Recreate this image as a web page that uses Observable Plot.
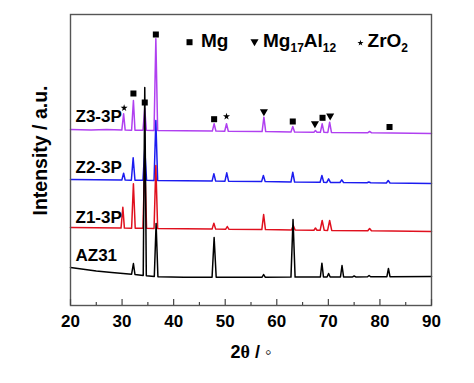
<!DOCTYPE html>
<html><head><meta charset="utf-8">
<script src="https://cdn.jsdelivr.net/npm/d3@7"></script>
<script src="https://cdn.jsdelivr.net/npm/@observablehq/plot@0.6"></script>
<style>
html,body{margin:0;padding:0;background:#fff;}
#chart svg{display:block;}
</style></head><body><div id="chart"></div>
<script>
// ---- data (2θ in degrees, intensity in arbitrary units) ----
const xTicks = [20, 30, 40, 50, 60, 70, 80, 90];
const xMinorTicks = [25, 35, 45, 55, 65, 75, 85];

const seriesNames = ["Z3-3P", "Z2-3P", "Z1-3P", "AZ31"];
const seriesColors = ["#b040f0", "#1c1cf0", "#e0101e", "#000000"];
const labelX = [20.97, 20.97, 20.97, 20.97];
const labelY = [189.2, 138.2, 88.2, 49.8];

const z3 = [[20,176],[24,175.6],[27,175.9],[29.95,175.4],[30.3,191.7],[30.6,175.4],[31.85,175.3],[32.2,205],[32.5,175.3],[34.05,175.2],[34.4,197],[34.7,175.2],[36.2,175.1],[36.55,266.7],[36.9,175.1],[42,174.8],[47.5,174.4],[47.85,181.7],[48.2,174.4],[49.9,174.3],[50.25,181.7],[50.6,174.3],[57.15,173.9],[57.5,188.3],[57.85,173.9],[62.75,173.6],[63.1,179],[63.45,173.5],[67.2,173.3],[67.5,175],[67.8,173.3],[68.45,173.2],[68.8,181.7],[69.15,173.2],[69.9,173.1],[70.25,183.3],[70.6,173.1],[77.6,172.7],[78,174],[78.4,172.7],[90,172]];
const z2 = [[20,126],[29.95,125.4],[30.3,132.3],[30.6,125.4],[31.8,125.3],[32.15,147.7],[32.5,125.3],[34.05,125.2],[34.4,157],[34.75,125.2],[36.2,125.1],[36.55,185],[36.9,125.1],[47.45,124.4],[47.8,131.7],[48.15,124.4],[49.95,124.3],[50.3,132.7],[50.65,124.3],[57.05,123.9],[57.4,130],[57.75,123.9],[62.75,123.5],[63.1,133.3],[63.45,123.5],[68.4,123.2],[68.75,130],[69.1,123.2],[69.7,123.1],[70.05,126.7],[70.4,123.1],[72.25,123],[72.6,125.7],[72.95,123],[77.5,122.7],[77.85,123.5],[78.2,122.7],[81.25,122.5],[81.6,125],[81.95,122.5],[90,122]];
const z1 = [[20,78],[29.8,77.4],[30.15,98.3],[30.45,77.4],[31.85,77.3],[32.2,121.7],[32.55,77.3],[34.05,77.2],[34.4,145],[34.75,77.2],[36.2,77.1],[36.55,140],[36.9,77.1],[47.45,76.4],[47.8,82.3],[48.15,76.4],[50.1,76.3],[50.4,79],[50.7,76.3],[57.1,75.9],[57.45,91],[57.8,75.9],[62.85,75.5],[63.2,80],[63.55,75.5],[67.2,75.3],[67.5,77.5],[67.8,75.3],[68.4,75.2],[68.8,85],[69.2,75.2],[69.85,75.1],[70.25,85],[70.65,75.1],[77.65,74.7],[78,77],[78.35,74.7],[90,74]];
const az31 = [[20,38],[25,34.5],[28,33],[31.85,31.3],[32.2,42],[32.5,31],[34.1,30],[34.4,218],[34.7,29.8],[36.25,29],[36.6,82],[36.95,28.8],[42,28.3],[47.45,28.2],[47.85,68],[48.25,28.2],[57.15,28.3],[57.45,31],[57.75,28.3],[62.75,28.4],[63.15,86],[63.55,28.4],[68.45,28.5],[68.75,42.3],[69.05,28.5],[69.75,28.5],[70.05,32],[70.35,28.5],[72.35,28.6],[72.65,40],[72.95,28.6],[74.7,28.6],[75,29.5],[75.3,28.6],[77.6,28.7],[77.9,30],[78.2,28.7],[81.35,28.8],[81.65,37],[81.95,28.8],[90,29]];

// phase markers on the Z3-3P pattern
const mgX = [32.2, 34.4, 36.55, 47.85, 63.1, 68.87, 81.86];
const mgY = [212, 203, 271, 186.3, 184, 187.7, 178.5];
const mg17X = [57.5, 67.4, 70.35];
const mg17Y = [194, 182, 189.7];
const zro2X = [30.4, 50.25];
const zro2Y = [197.5, 189];

// legend
const legendLabels = ["Mg", "Mg17Al12", "ZrO2"];
const legendSymbolX = [43.08, 55.68, 76.23];
const legendSymbolY = [263.3, 264, 262.5];
const legendTextX = [45.3, 57.33, 77.6];
const legendTextY = [265, 265, 265];

const xLabel = "2θ / ◦";
const yLabel = "Intensity / a.u.";

// ---- build ----
const allSeries = [z3, z2, z1, az31];
const pts = (arr) => arr.map(d => ({x: d[0], y: d[1]}));
const zip = (xs, ys) => xs.map((x, i) => ({x, y: ys[i]}));

const lineMarks = allSeries.map((s, i) =>
  Plot.line(pts(s), {x: "x", y: "y", stroke: seriesColors[i], strokeWidth: 1.5, curve: "linear"}));

const seriesLabels = seriesNames.map((n, i) => ({t: n, x: labelX[i], y: labelY[i]}));
const legendSyms = ["square", "triangle", "star"];
const legendR = [3.4, 3.0, 1.9];
const legendRot = [0, 180, 0];

const chart = Plot.plot({
  width: 474,
  height: 383,
  marginLeft: 70,
  marginRight: 43,
  marginTop: 14,
  marginBottom: 78,
  x: {domain: [20, 90]},
  y: {domain: [0, 291], axis: null},
  style: {fontFamily: "'Liberation Sans', Arial, sans-serif", fontWeight: "bold", background: "#fff", color: "#000"},
  marks: [
    ...lineMarks,
    Plot.dot(zip(mgX, mgY), {x: "x", y: "y", symbol: "square", r: 3.4, fill: "#000", stroke: "none"}),
    Plot.dot(zip(mg17X, mg17Y), {x: "x", y: "y", symbol: "triangle", r: 3.0, rotate: 180, fill: "#000", stroke: "none"}),
    Plot.dot(zip(zro2X, zro2Y), {x: "x", y: "y", symbol: "star", r: 2.2, fill: "#000", stroke: "none"}),
    ...legendSyms.map((s, i) => Plot.dot([{x: legendSymbolX[i], y: legendSymbolY[i]}],
      {x: "x", y: "y", symbol: s, r: legendR[i], rotate: legendRot[i], fill: "#000", stroke: "none"})),
    Plot.text(legendLabels.map((t, i) => ({t, x: legendTextX[i], y: legendTextY[i]})),
      {x: "x", y: "y", text: "t", textAnchor: "start", fontSize: 19, fontWeight: "bold", fill: "#000", ariaDescription: "legend-text"}),
    Plot.text(seriesLabels, {x: "x", y: "y", text: "t", textAnchor: "start", fontSize: 17, fontWeight: "bold", fill: "#000"}),
    Plot.frame({stroke: "#555", strokeWidth: 1.4}),
    Plot.axisX({ticks: xTicks, tickSize: -6, tickFormat: () => "", label: null, stroke: "#444", strokeWidth: 1.2}),
    Plot.axisX({ticks: xMinorTicks, tickSize: -3, tickFormat: () => "", label: null, stroke: "#444", strokeWidth: 1.2}),
    Plot.axisX({ticks: xTicks, tickSize: 0, tickPadding: 9, label: null, fontSize: 17, fontWeight: "bold", fill: "#000"}),
    Plot.text([xLabel], {frameAnchor: "bottom", textAnchor: "middle", lineAnchor: "middle", dy: 47, fontSize: 18, fontWeight: "bold", fill: "#000", ariaDescription: "x-label"}),
    Plot.text([yLabel], {frameAnchor: "left", textAnchor: "middle", lineAnchor: "middle", dx: -30, dy: -9.5, rotate: -90, fontSize: 19.5, fontWeight: "bold", fill: "#000"})
  ]
});
document.getElementById("chart").appendChild(chart);

function findTexts(desc) {
  const out = [];
  chart.querySelectorAll("g").forEach(g => {
    if (g.getAttribute("aria-description") === desc) g.querySelectorAll("text").forEach(t => out.push(t));
  });
  return out;
}
// subscripts in legend labels
findTexts("legend-text").forEach(el => {
  const s = el.textContent;
  el.textContent = "";
  const parts = s.match(/\d+|\D+/g);
  let sub = false;
  parts.forEach(p => {
    const ts = document.createElementNS("http://www.w3.org/2000/svg", "tspan");
    ts.textContent = p;
    const isDigit = /^\d+$/.test(p);
    if (isDigit) { ts.setAttribute("font-size", "12"); if (!sub) { ts.setAttribute("dy", "5"); sub = true; } }
    else if (sub) { ts.setAttribute("dy", "-5"); sub = false; }
    el.appendChild(ts);
  });
});
// serif theta in x label
findTexts("x-label").forEach(el => {
  const s = el.textContent;
  el.textContent = "";
  s.split(/(θ)/).forEach(p => {
    if (!p) return;
    const ts = document.createElementNS("http://www.w3.org/2000/svg", "tspan");
    ts.textContent = p;
    if (p === "θ") ts.setAttribute("font-family", "'Liberation Serif', serif");
    el.appendChild(ts);
  });
});
</script></body></html>
